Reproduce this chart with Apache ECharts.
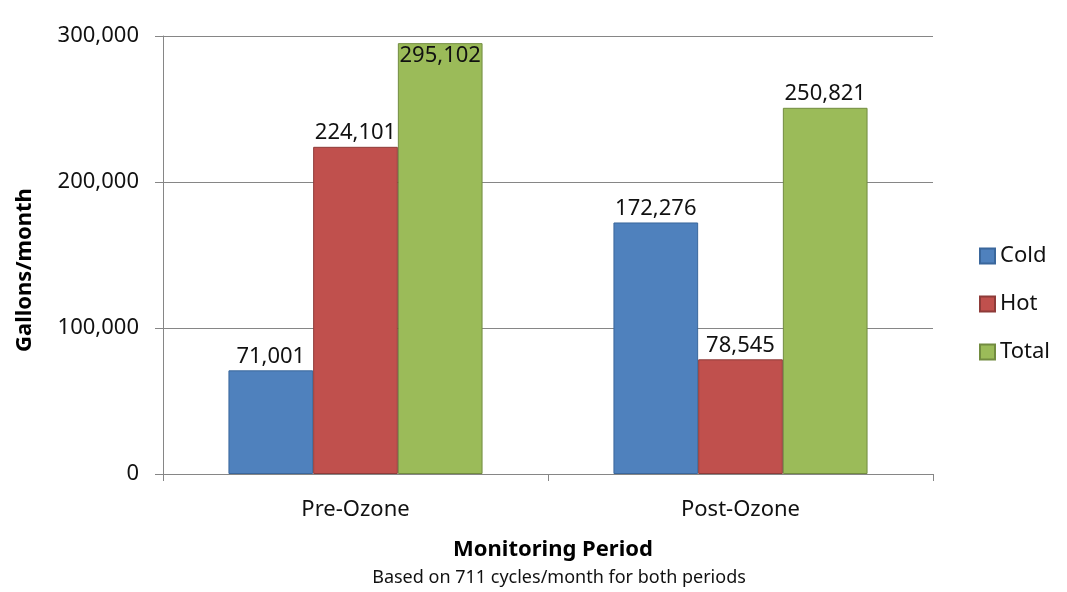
<!DOCTYPE html>
<html>
<head>
<meta charset="utf-8">
<script src="https://cdn.jsdelivr.net/npm/echarts@6/dist/echarts.min.js"></script>
<style>
  html, body { margin: 0; padding: 0; background: #fff; }
  #chart { width: 1067px; height: 592px; }
</style>
</head>
<body>
<div id="chart"></div>
<script>
var periods = ['Pre-Ozone', 'Post-Ozone'];
var cold = [71001, 172276];
var hot = [224101, 78545];
var total = [295102, 250821];

var font = 'Noto Sans';

function fmt(v) {
    return v.toLocaleString('en-US');
}

function barSeries(name, values, color, border) {
    return {
        name: name,
        type: 'bar',
        barGap: '0%',
        barCategoryGap: '34%',
        itemStyle: { color: color, borderColor: border, borderWidth: 1 },
        label: {
            show: true,
            position: 'top',
            distance: 3,
            fontFamily: font,
            fontSize: 22,
            color: '#111',
            formatter: function (p) { return fmt(p.value); }
        },
        data: values.map(function (v) {
            // Excel puts the label inside when it would hit the top of the plot
            if (v > 285000) {
                return { value: v, label: { position: 'insideTop', distance: 2 } };
            }
            return v;
        })
    };
}

var myChart = echarts.init(document.getElementById('chart'));

var option = {
    animation: false,
    backgroundColor: '#fff',
    title: [{
        text: 'Monitoring Period',
        left: 548,
        top: 534,
        textAlign: 'center',
        textStyle: { fontFamily: font, fontSize: 22, fontWeight: 'bold', color: '#000' }
    }, {
        text: 'Based on 711 cycles/month for both periods',
        left: 554,
        top: 564,
        textAlign: 'center',
        textStyle: { fontFamily: font, fontSize: 18, fontWeight: 'normal', color: '#111' }
    }],
    // y axis title, drawn as a rotated text so it can sit a bit below centre like the original
    graphic: [{
        type: 'text',
        x: 25,
        y: 270,
        rotation: Math.PI / 2,
        style: {
            text: 'Gallons/month',
            fontFamily: font,
            fontSize: 22,
            fontWeight: 'bold',
            fill: '#000',
            align: 'center',
            verticalAlign: 'middle'
        }
    }],
    legend: {
        orient: 'vertical',
        left: 974,
        top: 240,
        itemWidth: 15,
        itemHeight: 15,
        itemGap: 26,
        icon: 'rect',
        textStyle: { fontFamily: font, fontSize: 22, lineHeight: 22, color: '#111' },
        data: ['Cold', 'Hot', 'Total']
    },
    grid: { left: 163, right: 134, top: 36, bottom: 118, outerBoundsMode: 'none' },
    xAxis: {
        type: 'category',
        data: periods,
        axisLine: { lineStyle: { color: '#868686' } },
        axisTick: { show: true, length: 7, lineStyle: { color: '#868686' } },
        axisLabel: { fontFamily: font, fontSize: 22, color: '#111', margin: 25 }
    },
    yAxis: {
        type: 'value',
        min: 0,
        max: 300000,
        interval: 100000,
        axisLine: { show: true, lineStyle: { color: '#868686' } },
        axisTick: { show: true, length: 8, lineStyle: { color: '#868686' } },
        splitLine: { lineStyle: { color: '#868686' } },
        axisLabel: {
            fontFamily: font, fontSize: 22, color: '#111', margin: 24,
            formatter: function (v) { return fmt(v); }
        }
    },
    series: [
        barSeries('Cold', cold, '#4F81BD', '#3A679C'),
        barSeries('Hot', hot, '#C0504D', '#8E3B39'),
        barSeries('Total', total, '#9BBB59', '#728C40')
    ]
};

myChart.setOption(option);
</script>
</body>
</html>
